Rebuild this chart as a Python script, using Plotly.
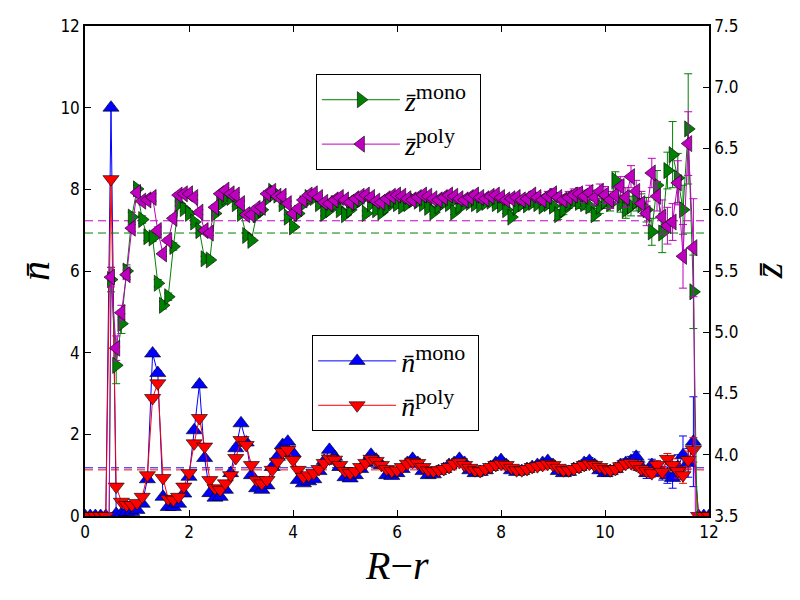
import plotly.graph_objects as go

# ---------------- data ----------------
x = [0.0, 0.1, 0.2, 0.3, 0.4, 0.5, 0.6, 0.7, 0.8, 0.9,
     1.0, 1.1, 1.2, 1.3, 1.4, 1.5, 1.6, 1.7, 1.8, 1.9,
     2.0, 2.1, 2.2, 2.3, 2.4, 2.5, 2.6, 2.7, 2.8, 2.9,
     3.0, 3.1, 3.2, 3.3, 3.4, 3.5, 3.6, 3.7, 3.8, 3.9,
     4.0, 4.1, 4.2, 4.3, 4.4, 4.5, 4.6, 4.7, 4.8, 4.9,
     5.0, 5.1, 5.2, 5.3, 5.4, 5.5, 5.6, 5.7, 5.8, 5.9,
     6.0, 6.1, 6.2, 6.3, 6.4, 6.5, 6.6, 6.7, 6.8, 6.9,
     7.0, 7.1, 7.2, 7.3, 7.4, 7.5, 7.6, 7.7, 7.8, 7.9,
     8.0, 8.1, 8.2, 8.3, 8.4, 8.5, 8.6, 8.7, 8.8, 8.9,
     9.0, 9.1, 9.2, 9.3, 9.4, 9.5, 9.6, 9.7, 9.8, 9.9,
     10.0, 10.1, 10.2, 10.3, 10.4, 10.5, 10.6, 10.7, 10.8, 10.9,
     11.0, 11.1, 11.2, 11.3, 11.4, 11.5, 11.6, 11.7, 11.8, 11.9,
     12.0]

n_mono = [0, 0, 0, 0, 0, 10.0, 0.05, 0.05, 0.1, 0.1,
          0.15, 0.3, 0.9, 3.98, 3.5, 0.47, 0.22, 0.22, 0.3, 0.55,
          0.96, 2.1, 3.22, 1.42, 0.56, 0.45, 0.47, 0.64, 1.05, 1.66,
          2.27, 1.8, 1.0, 0.68, 0.64, 0.75, 1.2, 1.45, 1.74, 1.82,
          1.54, 0.88, 0.8, 0.85, 0.9, 1.1, 1.35, 1.62, 1.45, 1.2,
          0.95, 0.92, 1.0, 1.15, 1.3, 1.5, 1.38, 1.25, 1.0, 0.98,
          1.05, 1.15, 1.3, 1.4, 1.3, 1.1, 1.0, 1.02, 1.1, 1.15,
          1.25, 1.3, 1.4, 1.3, 1.12, 1.05, 1.08, 1.12, 1.2, 1.3,
          1.37, 1.25, 1.12, 1.08, 1.1, 1.15, 1.2, 1.25, 1.3, 1.35,
          1.25, 1.1, 1.05, 1.08, 1.15, 1.2, 1.3, 1.35, 1.25, 1.12,
          1.05, 1.1, 1.15, 1.25, 1.3, 1.35, 1.45, 1.2, 1.05, 1.25,
          1.15, 1.05, 1.0, 0.93, 1.2, 1.49, 1.3, 1.82, 0, 0,
          0]
n_poly = [0, 0, 0, 0, 0, 8.25, 0.72, 0.35, 0.27, 0.27,
          0.32, 0.47, 1.0, 2.89, 3.25, 0.93, 0.42, 0.4, 0.47, 0.72,
          1.05, 1.78, 2.4, 1.7, 0.88, 0.68, 0.64, 0.8, 1.0, 1.42,
          1.86, 1.74, 1.25, 0.88, 0.8, 0.88, 1.13, 1.33, 1.57, 1.62,
          1.37, 1.13, 0.96, 1.0, 1.05, 1.15, 1.3, 1.41, 1.38, 1.25,
          1.1, 1.05, 1.1, 1.2, 1.3, 1.4, 1.35, 1.25, 1.15, 1.1,
          1.12, 1.2, 1.28, 1.33, 1.3, 1.2, 1.12, 1.1, 1.12, 1.15,
          1.2, 1.28, 1.32, 1.25, 1.18, 1.12, 1.1, 1.15, 1.2, 1.25,
          1.28, 1.25, 1.18, 1.12, 1.12, 1.15, 1.2, 1.22, 1.25, 1.28,
          1.25, 1.18, 1.12, 1.12, 1.15, 1.2, 1.25, 1.28, 1.25, 1.2,
          1.15, 1.12, 1.15, 1.22, 1.28, 1.3, 1.25, 1.15, 1.1, 1.05,
          1.25, 1.08, 1.4, 1.25, 1.1, 1.0, 1.37, 1.62, 0, 0,
          0]
n_mono_err = [0, 0, 0, 0, 0, 0.05, 0.02, 0.02, 0.02, 0.02,
              0.02, 0.03, 0.04, 0.06, 0.06, 0.03, 0.02, 0.02, 0.02, 0.03,
              0.03, 0.04, 0.05, 0.04, 0.03, 0.03, 0.03, 0.03, 0.03, 0.04,
              0.04, 0.04, 0.03, 0.03, 0.03, 0.03, 0.03, 0.03, 0.04, 0.04,
              0.04, 0.03, 0.03, 0.03, 0.03, 0.03, 0.03, 0.04, 0.04, 0.03,
              0.03, 0.03, 0.03, 0.03, 0.03, 0.04, 0.04, 0.03, 0.03, 0.03,
              0.03, 0.03, 0.04, 0.04, 0.04, 0.03, 0.03, 0.03, 0.03, 0.04,
              0.04, 0.04, 0.04, 0.04, 0.04, 0.04, 0.04, 0.04, 0.04, 0.05,
              0.05, 0.05, 0.05, 0.05, 0.05, 0.05, 0.05, 0.05, 0.06, 0.06,
              0.06, 0.06, 0.06, 0.06, 0.07, 0.07, 0.07, 0.08, 0.08, 0.08,
              0.08, 0.09, 0.09, 0.1, 0.1, 0.11, 0.12, 0.12, 0.13, 0.14,
              0.15, 0.17, 0.2, 0.25, 0.3, 0.47, 0.35, 1.1, 0, 0,
              0]
n_poly_err = [0, 0, 0, 0, 0, 0.05, 0.02, 0.02, 0.02, 0.02,
              0.02, 0.02, 0.03, 0.05, 0.05, 0.03, 0.02, 0.02, 0.02, 0.02,
              0.03, 0.03, 0.04, 0.04, 0.03, 0.02, 0.02, 0.02, 0.03, 0.03,
              0.03, 0.03, 0.03, 0.02, 0.02, 0.02, 0.03, 0.03, 0.03, 0.03,
              0.03, 0.03, 0.03, 0.03, 0.03, 0.03, 0.03, 0.03, 0.03, 0.03,
              0.03, 0.03, 0.03, 0.03, 0.03, 0.03, 0.03, 0.03, 0.03, 0.03,
              0.03, 0.03, 0.03, 0.03, 0.03, 0.03, 0.03, 0.03, 0.03, 0.03,
              0.03, 0.03, 0.03, 0.03, 0.03, 0.03, 0.03, 0.04, 0.04, 0.04,
              0.04, 0.04, 0.04, 0.04, 0.04, 0.04, 0.04, 0.04, 0.04, 0.05,
              0.05, 0.05, 0.05, 0.05, 0.05, 0.05, 0.06, 0.06, 0.06, 0.06,
              0.06, 0.07, 0.07, 0.07, 0.08, 0.08, 0.08, 0.09, 0.1, 0.1,
              0.11, 0.12, 0.13, 0.15, 0.17, 0.2, 0.22, 0.3, 0, 0,
              0]

z_mono = [0, 0, 0, 0, 0, 5.43, 4.73, 5.07, 5.5, 5.94,
          6.17, 5.92, 5.78, 5.77, 5.40, 5.22, 5.29, 5.70, 6.05, 6.01,
          5.97, 5.9, 5.83, 5.6, 5.59, 5.97, 6.05, 6.1, 6.1, 6.05,
          5.97, 5.79, 5.75, 5.96, 6.0, 6.09, 6.15, 6.12, 6.05, 5.94,
          5.86, 5.97, 6.05, 6.1, 6.1, 6.05, 5.97, 6.0, 6.05, 6.0,
          5.96, 6.0, 6.05, 6.08, 5.97, 6.05, 6.0, 5.98, 6.02, 6.07,
          6.05, 6.03, 6.05, 6.08, 6.07, 6.05, 6.02, 5.98, 6.03, 6.06,
          6.05, 5.98, 6.03, 6.05, 6.06, 6.05, 6.04, 6.06, 6.07, 6.05,
          6.04, 6.0, 5.94, 6.02, 6.05, 6.04, 6.06, 6.05, 6.03, 6.05,
          6.03, 5.96, 6.0, 6.05, 6.07, 6.06, 6.05, 6.03, 5.96, 6.03,
          6.07, 6.05, 6.24, 6.05, 6.0, 6.03, 6.07, 6.04, 6.0, 5.82,
          6.2, 5.81, 6.32, 6.45, 6.26, 6.0, 6.66, 5.33, 0, 0,
          0]
z_poly = [0, 0, 0, 0, 0, 5.45, 4.87, 5.16, 5.47, 5.85,
          6.14, 6.07, 6.08, 6.1, 5.83, 5.64, 5.75, 5.93, 6.12, 6.13,
          6.13, 6.1, 5.98, 5.83, 5.81, 6.02, 6.13, 6.16, 6.13, 6.12,
          6.05, 5.96, 5.96, 6.01, 6.02, 6.13, 6.15, 6.11, 6.11, 6.05,
          5.97, 6.01, 6.08, 6.12, 6.13, 6.1, 6.06, 6.05, 6.08, 6.1,
          6.08, 6.06, 6.09, 6.11, 6.12, 6.1, 6.07, 6.06, 6.09, 6.11,
          6.12, 6.11, 6.09, 6.08, 6.1, 6.12, 6.11, 6.09, 6.08, 6.1,
          6.12, 6.11, 6.09, 6.08, 6.1, 6.12, 6.1, 6.09, 6.11, 6.12,
          6.1, 6.08, 6.09, 6.1, 6.08, 6.09, 6.12, 6.1, 6.08, 6.11,
          6.13, 6.1, 6.08, 6.1, 6.12, 6.13, 6.11, 6.14, 6.1, 6.15,
          6.12, 6.08, 6.12, 6.19, 6.1, 6.27, 6.15, 6.05, 5.97, 6.3,
          6.11, 5.94, 5.87, 5.9, 6.22, 5.62, 6.54, 5.69, 0, 0,
          0]
z_mono_err = [0, 0, 0, 0, 0, 0.1, 0.15, 0.08, 0.05, 0.04,
              0.03, 0.03, 0.03, 0.03, 0.03, 0.03, 0.03, 0.03, 0.02, 0.02,
              0.02, 0.02, 0.02, 0.02, 0.02, 0.02, 0.02, 0.02, 0.02, 0.02,
              0.02, 0.02, 0.02, 0.02, 0.02, 0.02, 0.02, 0.02, 0.02, 0.02,
              0.02, 0.02, 0.02, 0.02, 0.02, 0.02, 0.02, 0.02, 0.02, 0.02,
              0.02, 0.02, 0.02, 0.02, 0.02, 0.02, 0.02, 0.02, 0.02, 0.02,
              0.02, 0.02, 0.02, 0.02, 0.02, 0.02, 0.02, 0.02, 0.02, 0.02,
              0.02, 0.02, 0.02, 0.02, 0.02, 0.02, 0.02, 0.02, 0.03, 0.03,
              0.03, 0.03, 0.03, 0.03, 0.03, 0.03, 0.03, 0.03, 0.03, 0.04,
              0.04, 0.04, 0.04, 0.04, 0.04, 0.05, 0.05, 0.05, 0.05, 0.06,
              0.06, 0.06, 0.07, 0.07, 0.07, 0.08, 0.08, 0.09, 0.1, 0.11,
              0.12, 0.16, 0.15, 0.27, 0.2, 0.2, 0.45, 0.3, 0, 0,
              0]
z_poly_err = [0, 0, 0, 0, 0, 0.08, 0.1, 0.06, 0.04, 0.03,
              0.03, 0.03, 0.03, 0.03, 0.03, 0.02, 0.02, 0.02, 0.02, 0.02,
              0.02, 0.02, 0.02, 0.02, 0.02, 0.02, 0.02, 0.02, 0.02, 0.02,
              0.02, 0.02, 0.02, 0.02, 0.02, 0.02, 0.02, 0.02, 0.02, 0.02,
              0.02, 0.02, 0.02, 0.02, 0.02, 0.02, 0.02, 0.02, 0.02, 0.02,
              0.02, 0.02, 0.02, 0.02, 0.02, 0.02, 0.02, 0.02, 0.02, 0.02,
              0.02, 0.02, 0.02, 0.02, 0.02, 0.02, 0.02, 0.02, 0.02, 0.02,
              0.02, 0.02, 0.02, 0.02, 0.02, 0.02, 0.03, 0.03, 0.03, 0.03,
              0.03, 0.03, 0.03, 0.03, 0.03, 0.03, 0.03, 0.04, 0.04, 0.04,
              0.04, 0.04, 0.04, 0.05, 0.05, 0.05, 0.05, 0.06, 0.06, 0.06,
              0.07, 0.07, 0.07, 0.08, 0.08, 0.09, 0.09, 0.1, 0.1, 0.12,
              0.12, 0.14, 0.15, 0.15, 0.18, 0.26, 0.26, 0.4, 0, 0,
              0]

# mean (dashed) levels
n_mono_mean = 1.18
n_poly_mean = 1.13
z_mono_mean = 5.81
z_poly_mean = 5.91
x_span = [0, 12]

x_ticks = [0, 2, 4, 6, 8, 10, 12]
n_ticks = [0, 2, 4, 6, 8, 10, 12]
z_ticks = [3.5, 4.0, 4.5, 5.0, 5.5, 6.0, 6.5, 7.0, 7.5]

# ---------------- styles ----------------
BLUE = "#0000ff"
RED = "#ff0000"
GREEN = "#008000"
MAGENTA = "#bf00bf"
TICKFONT = dict(family="DejaVu Sans Condensed, DejaVu Sans", size=17, color="black")
SERIF = "Liberation Serif, DejaVu Serif, serif"
MS = 14
PAD = "\u00a0"


def label(sym, sup):
    return f'<i>{sym}</i><sup><span style="font-size:22px">{sup}</span></sup>{PAD}'


fig = go.Figure()

# dashed mean lines (drawn first, under the markers)
for yv, col, ax in [(n_mono_mean, BLUE, "y"), (n_poly_mean, RED, "y"),
                    (z_mono_mean, GREEN, "y2"), (z_poly_mean, MAGENTA, "y2")]:
    fig.add_trace(go.Scatter(x=x_span, y=[yv, yv], mode="lines", yaxis=ax,
                             line=dict(color=col, width=1, dash="8px,5px"),
                             showlegend=False, hoverinfo="skip"))


def series(yvals, err, col, sym, name, ax, leg, grp):
    return go.Scatter(
        x=x, y=yvals, mode="lines+markers", yaxis=ax, name=name, legend=leg,
        legendgroup=grp,
        line=dict(color=col, width=1),
        marker=dict(symbol=sym, size=MS, color=col, line=dict(color="black", width=0.6)),
        error_y=dict(type="data", array=err, visible=True, color=col, thickness=1, width=4),
    )


fig.add_trace(series(n_mono, n_mono_err, BLUE, "triangle-up",
                     label("n̄", "mono"), "y", "legend2", "nm"))
fig.add_trace(series(n_poly, n_poly_err, RED, "triangle-down",
                     label("n̄", "poly"), "y", "legend2", "np"))
fig.add_trace(series(z_mono, z_mono_err, GREEN, "triangle-right",
                     label("z̄", "mono"), "y2", "legend", "zm"))
fig.add_trace(series(z_poly, z_poly_err, MAGENTA, "triangle-left",
                     label("z̄", "poly"), "y2", "legend", "zp"))

legend_common = dict(
    bgcolor="white", bordercolor="black", borderwidth=1,
    font=dict(family=SERIF, size=28, color="black"),
    xanchor="left", yanchor="top", itemwidth=78, tracegroupgap=5,
)

fig.update_layout(
    width=800, height=600,
    margin=dict(l=85, r=91, t=26, b=84),
    paper_bgcolor="white", plot_bgcolor="white",
    xaxis=dict(range=[0, 12], tickvals=x_ticks, ticks="inside", ticklen=6,
               tickcolor="black", showline=True, linecolor="black", linewidth=1.5,
               mirror="ticks", showgrid=False, zeroline=False, tickfont=TICKFONT),
    yaxis=dict(range=[0, 12], tickvals=n_ticks, ticks="inside", ticklen=6,
               tickcolor="black", showline=True, linecolor="black", linewidth=1.5,
               showgrid=False, zeroline=False, tickfont=TICKFONT),
    yaxis2=dict(range=[3.5, 7.5], tickvals=z_ticks, ticktext=[f"{v:.1f}" for v in z_ticks],
                overlaying="y", side="right", ticks="inside", ticklen=6,
                tickcolor="black", showline=True, linecolor="black", linewidth=1.5,
                showgrid=False, zeroline=False, tickfont=TICKFONT),
    legend=dict(x=0.370, y=0.902, **legend_common),
    legend2=dict(x=0.364, y=0.369, **legend_common),
    showlegend=True,
)

fig.add_annotation(text="<i>R</i>−<i>r</i>", xref="paper", yref="paper",
                   x=0.50, y=-0.10, xanchor="center", yanchor="middle", showarrow=False,
                   font=dict(family=SERIF, size=40, color="black"))
fig.add_annotation(text="<i>n̄</i>", xref="paper", yref="paper",
                   x=-0.08, y=0.5, xanchor="center", yanchor="middle", showarrow=False,
                   textangle=-90, font=dict(family=SERIF, size=40, color="black"))
fig.add_annotation(text="<i>z̄</i>", xref="paper", yref="paper",
                   x=1.095, y=0.5, xanchor="center", yanchor="middle", showarrow=False,
                   textangle=-90, font=dict(family=SERIF, size=40, color="black"))

fig.write_html("out.html")
